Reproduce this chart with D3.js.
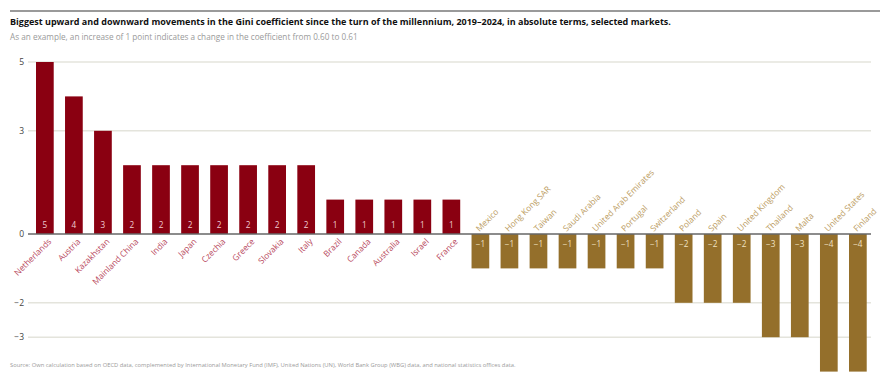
<!DOCTYPE html>
<html>
<head>
<meta charset="utf-8">
<script src="https://cdn.jsdelivr.net/npm/d3@7"></script>
<style>
  body { margin: 0; background: #fff; }
  svg { display: block; font-family: "Open Sans", "Noto Sans", sans-serif; }
</style>
</head>
<body>
<svg id="chart" width="880" height="384"></svg>
<script>
const categories = ["Netherlands","Austria","Kazakhstan","Mainland China","India","Japan","Czechia","Greece","Slovakia","Italy","Brazil","Canada","Australia","Israel","France","Mexico","Hong Kong SAR","Taiwan","Saudi Arabia","United Arab Emirates","Portugal","Switzerland","Poland","Spain","United Kingdom","Thailand","Malta","United States","Finland"];
const values = [5,4,3,2,2,2,2,2,2,2,1,1,1,1,1,-1,-1,-1,-1,-1,-1,-1,-2,-2,-2,-3,-3,-4,-4];
const yTicks = [5,3,0,-2,-3];

const title = "Biggest upward and downward movements in the Gini coefficient since the turn of the millennium, 2019\u20132024, in absolute terms, selected markets.";
const subtitle = "As an example, an increase of 1 point indicates a change in the coefficient from 0.60 to 0.61";
const source = "Source: Own calculation based on OECD data, complemented by International Monetary Fund (IMF), United Nations (UN), World Bank Group (WBG) data, and national statistics offices data.";

const data = categories.map((c, i) => ({ name: c, value: values[i] }));
const svg = d3.select("#chart");

const posColor = "#8a0011", negColor = "#946f2b";
const posLabel = "#b8485c", negLabel = "#bb9c62";

// top rule
svg.append("line").attr("x1", 10).attr("x2", 880).attr("y1", 11).attr("y2", 11)
  .attr("stroke", "#9a9a9a").attr("stroke-width", 2);

svg.append("text").attr("x", 10).attr("y", 24.5).attr("font-size", 9).attr("font-weight", 700)
  .attr("fill", "#111").text(title);
svg.append("text").attr("x", 10).attr("y", 40).attr("font-size", 8.2)
  .attr("fill", "#9a9a9a").text(subtitle);
svg.append("text").attr("x", 10).attr("y", 367).attr("font-size", 5.8)
  .attr("fill", "#9a9a9a").text(source);

const y = d3.scaleLinear().domain([-4, 5]).range([371.6, 62]);
const step = 29.036;
const x = d3.scaleBand().domain(categories)
  .range([36, 36 + step * (categories.length - 0.39)])
  .paddingInner(0.39).paddingOuter(0);

const gx0 = 28, gx1 = 871;

// gridlines
svg.append("g").selectAll("line").data(yTicks.filter(t => t !== 0)).join("line")
  .attr("x1", gx0).attr("x2", gx1)
  .attr("y1", d => y(d)).attr("y2", d => y(d))
  .attr("stroke", "#e4e4dc").attr("stroke-width", 1.5);

// y tick labels
svg.append("g").selectAll("text").data(yTicks).join("text")
  .attr("x", 24).attr("y", d => y(d)).attr("dy", "0.35em")
  .attr("text-anchor", "end").attr("font-size", 8.5).attr("fill", "#444")
  .text(d => d < 0 ? "\u2212" + Math.abs(d) : d);

// bars
svg.append("g").selectAll("rect").data(data).join("rect")
  .attr("x", d => x(d.name))
  .attr("width", x.bandwidth())
  .attr("y", d => d.value > 0 ? y(d.value) : y(0))
  .attr("height", d => Math.abs(y(d.value) - y(0)))
  .attr("fill", d => d.value > 0 ? posColor : negColor);

// zero line
svg.append("line").attr("x1", gx0).attr("x2", gx1).attr("y1", y(0)).attr("y2", y(0))
  .attr("stroke", "#666").attr("stroke-width", 1.5);

// value labels
svg.append("g").selectAll("text").data(data).join("text")
  .attr("x", d => x(d.name) + x.bandwidth() / 2)
  .attr("y", d => d.value > 0 ? y(0) - 9 : y(0) + 10)
  .attr("dy", "0.35em")
  .attr("text-anchor", "middle").attr("font-size", 8.2)
  .attr("fill", d => d.value > 0 ? "#f0ccd2" : "#f0e2c4")
  .text(d => d.value < 0 ? "\u2212" + Math.abs(d.value) : d.value);

// category labels
svg.append("g").selectAll("text").data(data).join("text")
  .attr("transform", d => {
    const cx = x(d.name) + x.bandwidth() / 2;
    return d.value > 0
      ? `translate(${cx + 5},${y(0) + 6}) rotate(-45)`
      : `translate(${cx - 3},${y(0) - 4}) rotate(-45)`;
  })
  .attr("text-anchor", d => d.value > 0 ? "end" : "start")
  .attr("dy", "0.35em")
  .attr("font-size", 8.4)
  .attr("fill", d => d.value > 0 ? posLabel : negLabel)
  .text(d => d.name);
</script>
</body>
</html>
